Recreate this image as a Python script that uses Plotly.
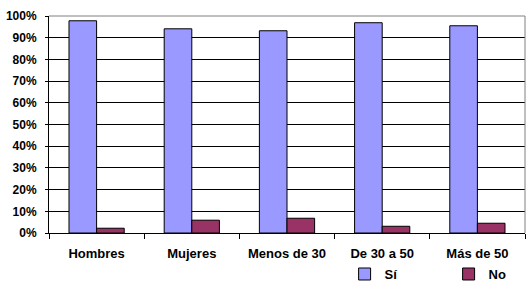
import plotly.graph_objects as go

categories = ["Hombres", "Mujeres", "Menos de 30", "De 30 a 50", "Más de 50"]
si_values = [97.8, 94.1, 93.2, 96.9, 95.5]
no_values = [2.2, 5.9, 6.8, 3.1, 4.5]
series_names = ["Sí", "No"]
y_ticks = list(range(0, 101, 10))
y_tick_labels = [f"{v}%" for v in y_ticks]

FONT = dict(family="Liberation Sans, Arial, sans-serif", size=12, color="black", weight="bold")

fig = go.Figure()
fig.add_trace(go.Bar(x=categories, y=si_values, name=series_names[0],
                     marker=dict(color="#9999FF", line=dict(color="black", width=1))))
fig.add_trace(go.Bar(x=categories, y=no_values, name=series_names[1],
                     marker=dict(color="#993366", line=dict(color="black", width=1))))

fig.update_layout(
    width=530, height=288,
    margin=dict(l=49, r=5, t=16, b=55, autoexpand=False),
    paper_bgcolor="white", plot_bgcolor="white",
    font=FONT,
    barmode="group", bargap=0.42, bargroupgap=0,
    showlegend=True,
    legend=dict(orientation="h", x=0.621, xanchor="left", y=-0.12, yanchor="top",
                font=dict(size=13, family=FONT["family"], weight="bold", color="black"),
                entrywidth=59, entrywidthmode="pixels", itemwidth=30,
                bgcolor="rgba(0,0,0,0)"),
    xaxis=dict(showline=True, linecolor="black", linewidth=1,
               ticks="outside", tickson="boundaries", ticklen=5, tickcolor="black",
               showgrid=False, tickfont=dict(size=13), ticklabelstandoff=8,
               tickangle=0, automargin=False),
    yaxis=dict(range=[0, 100], tickvals=y_ticks, ticktext=y_tick_labels,
               showline=True, linecolor="black", linewidth=1,
               ticks="outside", ticklen=3, tickcolor="black",
               showgrid=True, gridcolor="black", gridwidth=1,
               zeroline=False, tickfont=dict(size=12), ticklabelstandoff=6,
               automargin=False),
    shapes=[dict(type="path", xref="paper", yref="paper",
                 path="M 0 1 L 1 1 L 1 0", line=dict(color="#808080", width=1),
                 layer="above")],
)

fig.write_html("out.html")
